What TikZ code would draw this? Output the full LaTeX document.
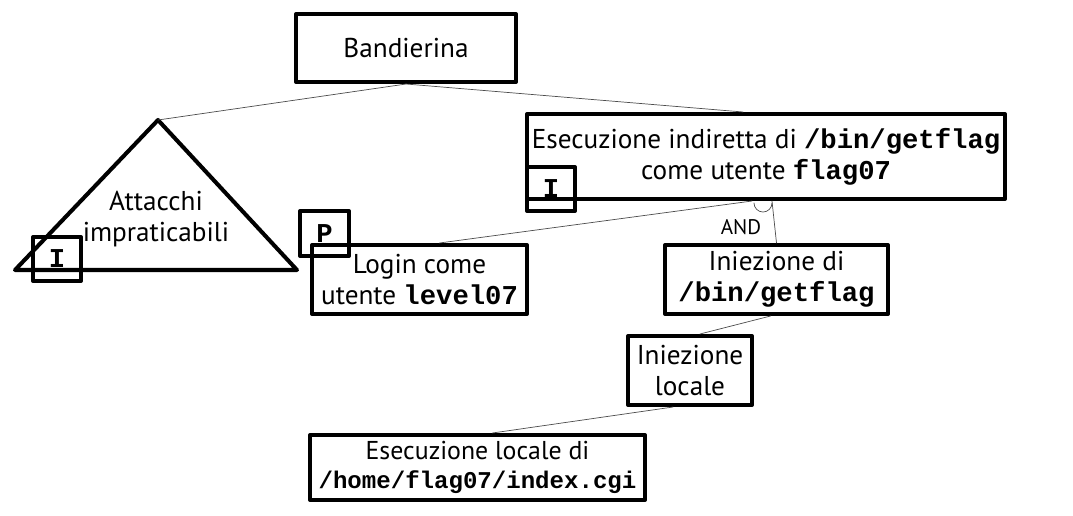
\documentclass[tikz,border=0pt]{standalone}
\usepackage{fontspec}
\setmainfont{PT Sans}
\setmonofont{Liberation Mono}
\usetikzlibrary{calc}
\newcommand{\cmd}[1]{\texttt{\textbf{#1}}}

\begin{document}
\begin{tikzpicture}[line cap=round,line join=round,x=0.02cm,y=-0.02cm,
  font=\fontsize{15.5}{17.5}\selectfont,
  box/.style={draw,line width=2.3pt,inner sep=0pt,align=center},
  markbox/.style={draw,line width=2.3pt,inner sep=0pt,minimum width=0.96cm,minimum height=0.88cm},
  connector/.style={draw=black!70,line width=0.4pt}]
\useasboundingbox (0,0) rectangle (1073,515);
% nodi
\node[box,minimum width=4.4cm,minimum height=1.36cm] (bandierina) at (406,48) {Bandierina};
\node[box,minimum width=9.56cm,minimum height=1.7cm] (exec) at (766,156.5)
  {Esecuzione indiretta di \cmd{/bin/getflag}\\come utente \cmd{flag07}};
\node[box,minimum width=4.3cm,minimum height=1.38cm] (login) at (419.5,279.5)
  {Login come\\utente \cmd{level07}};
\node[box,minimum width=4.46cm,minimum height=1.38cm] (iniez) at (776.5,279.5)
  {Iniezione di\\\cmd{/bin/getflag}};
\node[box,minimum width=2.48cm,minimum height=1.38cm] (locale) at (690,370.5)
  {Iniezione\\locale};
\node[box,minimum width=6.7cm,minimum height=1.3cm,font=\fontsize{14.7}{16.5}\selectfont] (esloc) at (477.5,467.5)
  {Esecuzione locale di\\\fontsize{13.7}{16.5}\selectfont\cmd{/home/flag07/index.cgi}};
% triangolo
\coordinate (apice) at (158,120);
\draw[line width=2.3pt] (apice) -- (297,270) -- (15,270) -- cycle;
\node[align=center] (attacchi) at (156,219) {Attacchi\\impraticabili};
% marcatori
\node[markbox] (markI) at (57,259) {\cmd{I}};
\node[markbox] (markexec) at (551,189) {\cmd{I}};
\node[markbox,minimum width=0.98cm,minimum height=0.9cm] (markP) at (324.5,233.5) {\cmd{P}};
\node (and) at (741,227) {\fontsize{12}{14}\selectfont AND};
% archi
\draw[connector] (bandierina.south) -- (apice);
\draw[connector] (bandierina.south) -- ($(exec.north)+(-23,0)$);
\draw[connector] ($(exec.south)+(-14,0)$) -- ($(login.north)+(20,0)$);
\draw[connector] ($(exec.south)+(6,0)$) -- (iniez.north);
\draw[connector] ($(exec.south)+(-12,2)$) arc[start angle=180,end angle=360,radius=0.18cm];
\draw[connector] ($(iniez.south)+(-6,0)$) -- ($(locale.north)+(10,0)$);
\draw[connector] ($(locale.south)+(-17,0)$) -- ($(esloc.north)+(15,0)$);
\end{tikzpicture}
\end{document}
